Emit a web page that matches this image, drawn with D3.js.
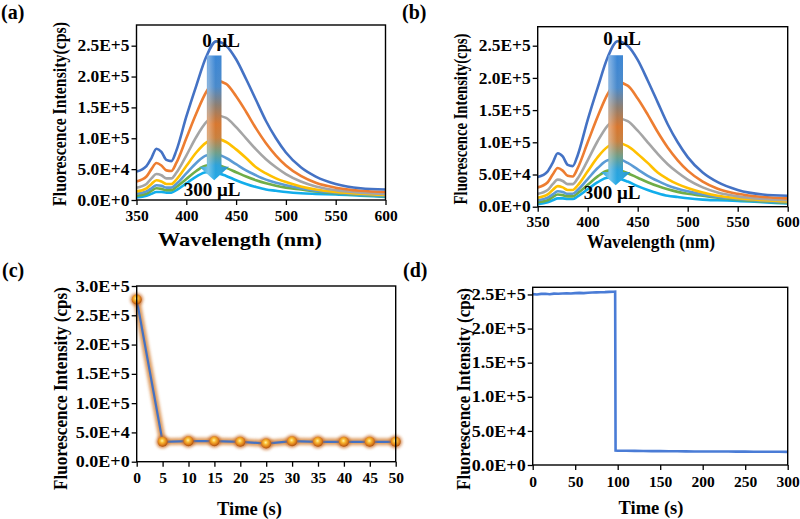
<!DOCTYPE html>
<html><head><meta charset="utf-8">
<script src="https://cdn.jsdelivr.net/npm/d3@7"></script>
<style>
body{margin:0;background:#fff}
svg{display:block}
text{font-family:"Liberation Serif","Times New Roman",serif;font-weight:bold;fill:#000}
</style>
</head><body>
<svg id="chart" width="800" height="519"></svg>
<script>
// ---------- DATA ----------
const wavelengths = [350,360,365,370,375,380,385,390,400,410,420,430,440,450,460,470,480,490,500,515,530,550,575,600];
const spec0uL   = [46,55,68,83,78,65,63,80,135,185,232,257,250,228,196,162,128,100,77,53,38,26,19,17];
const spec50uL  = [30,38,50,60,56,48,47,60,100,140,175,193,188,168,143,116,92,72,56,39,28,20,15,13];
const spec100uL = [20,26,35,42,40,35,35,44,72,102,126,137,133,118,100,82,66,53,42,30,22,16,12,10];
const spec150uL = [14,19,26,32,30,26,26,33,55,77,93,99,94,82,68,53,43,35,29,22,17,13,10,8];
const spec200uL = [10,14,19,24,23,20,20,26,43,60,72,74,68,58,48,40,33,28,24,19,15,12,9,7];
const spec250uL = [7,10,15,19,18,16,16,21,34,47,56,57,52,45,38,32,27,23,20,17,14,11,8,6];
const spec300uL = [4,7,10,13,13,12,12,16,27,38,45,44,39,32,26,21,17,15,13,11,10,9,7,5];
const wlTicks = [350,400,450,500,550,600];
const intTicksAB = [0,50000,100000,150000,200000,250000];

const timeC = [0,5,10,15,20,25,30,35,40,45,50];
const intensityC = [277000,34000,35000,35000,34000,31000,35000,34000,34000,34000,34000];
const timeTicksC = [0,5,10,15,20,25,30,35,40,45,50];
const intTicksC = [0,50000,100000,150000,200000,250000,300000];

const timeD = [0,5,10,15,20,25,30,35,40,45,50,55,60,65,70,75,80,85,90,95,97,97.5,100,110,120,130,140,150,160,170,180,190,200,210,220,230,240,250,260,270,280,290,300];
const intensityD = [250500,250000,250800,251000,250400,251200,251000,251500,251800,251400,252000,252300,252000,252600,252800,253000,253200,253400,253800,254000,254200,21200,21000,20800,20700,20600,20400,20300,20200,20100,20000,19900,19900,19800,19800,19700,19600,19600,19500,19500,19400,19400,19300];
const timeTicksD = [0,50,100,150,200,250,300];
const intTicksD = [0,50000,100000,150000,200000,250000];

// ---------- HELPERS ----------
const svg = d3.select("#chart");
const defs = svg.append("defs");
const specSeries = [spec300uL,spec250uL,spec200uL,spec150uL,spec100uL,spec50uL,spec0uL];
const specColors = ["#12ADEB","#70AD47","#5B9BD5","#FFC000","#A5A5A5","#ED7D31","#4472C4"];

function sci(v){
  if(v===0) return "0.0E+0";
  const e = Math.floor(Math.log10(v));
  return (v/Math.pow(10,e)).toFixed(1)+"E+"+e;
}

const g1 = defs.append("linearGradient").attr("id","arrowGrad").attr("x1",0).attr("y1",0).attr("x2",0).attr("y2",1);
[["0%","#3A86D6"],["25%","#4A8ACB"],["40%","#8E7E70"],["55%","#D8772F"],["66%","#C9803E"],["78%","#6E9E8A"],["88%","#2CA2DA"],["100%","#22A8E6"]]
  .forEach(s=>g1.append("stop").attr("offset",s[0]).attr("stop-color",s[1]));
const g2 = defs.append("linearGradient").attr("id","arrowShine").attr("x1",0).attr("y1",0).attr("x2",1).attr("y2",0);
[["0%","#ffffff",0.0],["30%","#ffffff",0.35],["55%","#ffffff",0.0],["100%","#000000",0.12]]
  .forEach(s=>g2.append("stop").attr("offset",s[0]).attr("stop-color",s[1]).attr("stop-opacity",s[2]));
const rg = defs.append("radialGradient").attr("id","ball").attr("cx","45%").attr("cy","40%").attr("r","60%");
[["0%","#FFF3A0"],["35%","#F8B830"],["75%","#D9781A"],["100%","#A8500C"]]
  .forEach(s=>rg.append("stop").attr("offset",s[0]).attr("stop-color",s[1]));
const blur = defs.append("filter").attr("id","glow").attr("x","-50%").attr("y","-50%").attr("width","200%").attr("height","200%");
blur.append("feGaussianBlur").attr("stdDeviation",1.6);

function frame(g, x0, x1, y0, y1){
  g.append("rect").attr("x",x0).attr("y",y0).attr("width",x1-x0).attr("height",y1-y0)
    .attr("fill","none").attr("stroke","#000").attr("stroke-width",1.4);
}
function styleAxis(ax){
  ax.select(".domain").remove();
  ax.selectAll(".tick line").attr("stroke","#000").attr("stroke-width",1.3);
}
function stretch(sel, w){
  sel.each(function(){ this.setAttribute("textLength", w); this.setAttribute("lengthAdjust","spacingAndGlyphs"); });
}
function tickText(sel, size){
  sel.attr("font-size",size).attr("font-family","Liberation Serif").attr("font-weight","bold").attr("fill","#000");
}
// vertical title fitted to a target length by scaling along its own x-axis
function vTitle(g, txt, cx, cy, len, size){
  const t = g.append("text").attr("text-anchor","middle").attr("font-size",size).text(txt);
  const nat = t.node().getComputedTextLength();
  t.attr("transform",`translate(${cx},${cy}) rotate(-90) scale(${len/nat},1)`);
}

function spectraPanel(o){
  const g = svg.append("g");
  const x = d3.scaleLinear().domain([350,600]).range([o.left,o.right]);
  const y = d3.scaleLinear().domain([0,o.ymax]).range([o.bottom,o.top]);
  const line = d3.line().x((d,i)=>x(wavelengths[i])).y(d=>y(d*1000)).curve(d3.curveMonotoneX);
  g.selectAll("path.spec").data(specSeries).join("path").attr("class","spec")
    .attr("d",line).attr("fill","none").attr("stroke",(d,i)=>specColors[i]).attr("stroke-width",2.6).attr("stroke-linejoin","round");
  frame(g,o.left,o.right,o.top,o.bottom);
  const ax = g.append("g").attr("transform",`translate(0,${o.bottom})`)
    .call(d3.axisBottom(x).tickValues(wlTicks).tickSize(5).tickPadding(4).tickFormat(d3.format("d")));
  styleAxis(ax);
  tickText(ax.selectAll("text"),15.5); ax.selectAll("text").attr("dy","0.75em");
  const ay = g.append("g").attr("transform",`translate(${o.left},0)`)
    .call(d3.axisLeft(y).tickValues(intTicksAB).tickSize(5).tickPadding(2).tickFormat(sci));
  styleAxis(ay);
  tickText(ay.selectAll("text"),16);
  stretch(ay.selectAll("text"),52);
  const ax0 = x(428), hw = 7.3, hh = 14.8;
  const yt = y(o.arrowTop), yb = y(o.arrowBase), ytip = y(o.arrowTip);
  const pts = [[ax0-hw,yt],[ax0+hw,yt],[ax0+hw,yb],[ax0+hh,yb],[ax0,ytip],[ax0-hh,yb],[ax0-hw,yb]];
  g.append("path").attr("d","M"+pts.map(p=>p.join(",")).join("L")+"Z").attr("fill","url(#arrowGrad)");
  g.append("path").attr("d","M"+pts.map(p=>p.join(",")).join("L")+"Z").attr("fill","url(#arrowShine)");
  g.append("text").attr("x",o.t0x).attr("y",o.t0y).attr("text-anchor","middle").attr("font-size",19).text("0 μL");
  g.append("text").attr("x",o.t3x).attr("y",o.t3y).attr("text-anchor","middle").attr("font-size",19).text("300 μL");
  g.append("text").attr("x",o.xtX).attr("y",o.xtY).attr("text-anchor","middle").attr("font-size",o.xtF)
    .attr("textLength",o.xtW).attr("lengthAdjust","spacingAndGlyphs").text("Wavelength (nm)");
  vTitle(g,"Fluorescence Intensity(cps)",o.ytX,o.ytY,o.ytW,18.5);
  g.append("text").attr("x",o.lx).attr("y",o.ly).attr("font-size",20).text(o.label);
}

spectraPanel({left:136.5,right:385.5,top:25,bottom:200,ymax:283500,arrowTop:234000,arrowBase:54000,arrowTip:32000,
  t0x:221,t0y:46.5,t3x:212,t3y:196,xtX:240,xtY:246,xtW:164,xtF:19,ytX:66,ytY:114,ytW:184,lx:1,ly:19,label:"(a)"});
spectraPanel({left:537.7,right:787.7,top:26.7,bottom:206.7,ymax:279500,arrowTop:235000,arrowBase:54000,arrowTip:33500,
  t0x:622,t0y:45,t3x:612,t3y:199,xtX:651,xtY:248,xtW:128,xtF:18,ytX:467,ytY:119,ytW:171,lx:402,ly:19,label:"(b)"});

// ---------- Panel (c) ----------
(function(){
  const o = {left:136.7,right:395.7,top:286,bottom:461.7};
  const g = svg.append("g");
  const x = d3.scaleLinear().domain([0,50]).range([o.left,o.right]);
  const y = d3.scaleLinear().domain([0,300000]).range([o.bottom,o.top]);
  const pts = timeC.map((t,i)=>[t,intensityC[i]]);
  const line = d3.line().x(d=>x(d[0])).y(d=>y(d[1]));
  g.append("path").attr("d",line(pts)).attr("fill","none").attr("stroke","#D27A2C").attr("stroke-width",7).attr("opacity",0.75).attr("filter","url(#glow)");
  g.append("path").attr("d",line(pts)).attr("fill","none").attr("stroke","#4472C4").attr("stroke-width",2.2);
  g.selectAll("circle.glow").data(pts).join("circle").attr("class","glow").attr("cx",d=>x(d[0])).attr("cy",d=>y(d[1])).attr("r",6.5)
    .attr("fill","#C8651A").attr("opacity",0.7).attr("filter","url(#glow)");
  g.selectAll("circle.ball").data(pts).join("circle").attr("class","ball").attr("cx",d=>x(d[0])).attr("cy",d=>y(d[1])).attr("r",5)
    .attr("fill","url(#ball)");
  frame(g,o.left,o.right,o.top,o.bottom);
  const ax = g.append("g").attr("transform",`translate(0,${o.bottom})`)
    .call(d3.axisBottom(x).tickValues(timeTicksC).tickSize(5).tickPadding(5).tickFormat(d3.format("d")));
  styleAxis(ax);
  tickText(ax.selectAll("text"),15.5); ax.selectAll("text").attr("dy","0.75em");
  const ay = g.append("g").attr("transform",`translate(${o.left},0)`)
    .call(d3.axisLeft(y).tickValues(intTicksC).tickSize(5).tickPadding(2).tickFormat(sci));
  styleAxis(ay);
  tickText(ay.selectAll("text"),16);
  stretch(ay.selectAll("text"),54);
  g.append("text").attr("x",249.5).attr("y",515).attr("text-anchor","middle").attr("font-size",18.5).text("Time (s)");
  vTitle(g,"Fluorescence Intensity (cps)",67,388.5,203,18.5);
  g.append("text").attr("x",2).attr("y",277).attr("font-size",20).text("(c)");
})();

// ---------- Panel (d) ----------
(function(){
  const o = {left:532.7,right:787.7,top:287.3,bottom:465};
  const g = svg.append("g");
  const x = d3.scaleLinear().domain([0,300]).range([o.left,o.right]);
  const y = d3.scaleLinear().domain([0,260500]).range([o.bottom,o.top]);
  const pts = timeD.map((t,i)=>[t,intensityD[i]]);
  const line = d3.line().x(d=>x(d[0])).y(d=>y(d[1]));
  g.append("path").attr("d",line(pts)).attr("fill","none").attr("stroke","#4A7CD6").attr("stroke-width",2.6);
  frame(g,o.left,o.right,o.top,o.bottom);
  const ax = g.append("g").attr("transform",`translate(0,${o.bottom})`)
    .call(d3.axisBottom(x).tickValues(timeTicksD).tickSize(5).tickPadding(5).tickFormat(d3.format("d")));
  styleAxis(ax);
  tickText(ax.selectAll("text"),15.5); ax.selectAll("text").attr("dy","0.75em");
  const ay = g.append("g").attr("transform",`translate(${o.left},0)`)
    .call(d3.axisLeft(y).tickValues(intTicksD).tickSize(5).tickPadding(2).tickFormat(sci));
  styleAxis(ay);
  tickText(ay.selectAll("text"),16);
  stretch(ay.selectAll("text"),54);
  g.append("text").attr("x",651).attr("y",514).attr("text-anchor","middle").attr("font-size",18.5).text("Time (s)");
  vTitle(g,"Fluorescence Intensity (cps)",470,389,202,18.5);
  g.append("text").attr("x",403).attr("y",277).attr("font-size",20).text("(d)");
})();
</script>
</body></html>
